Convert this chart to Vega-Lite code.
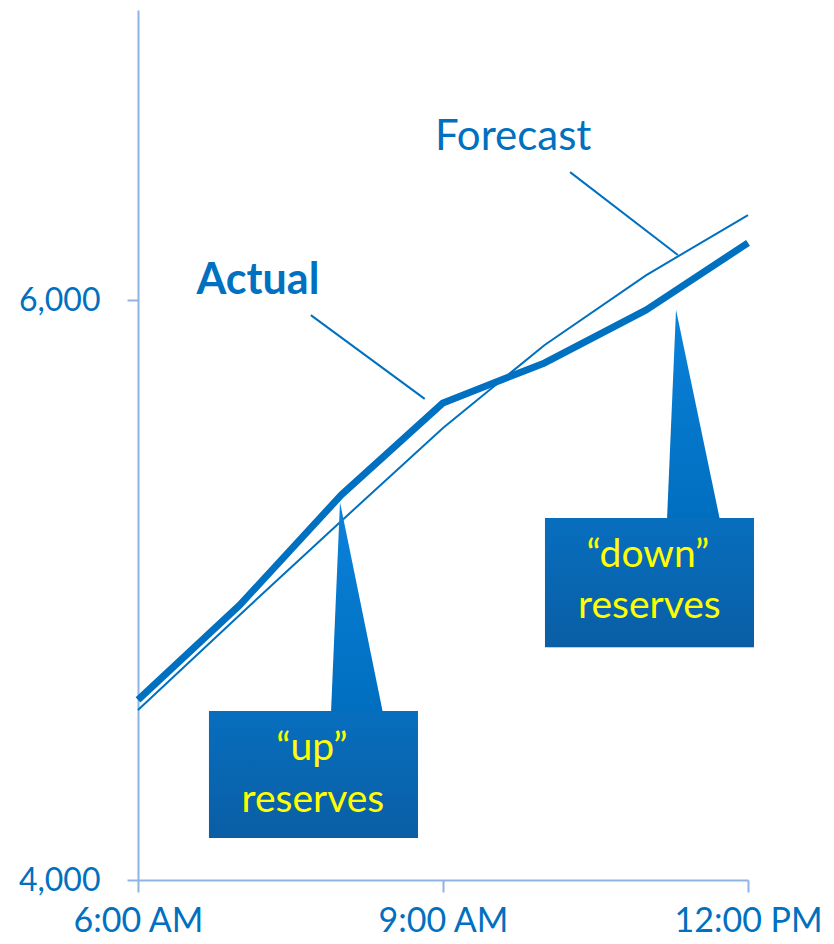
{
  "$schema": "https://vega.github.io/schema/vega-lite/v6.json",
  "width": 610,
  "height": 870,
  "autosize": {"type": "none"},
  "padding": {"left": 138, "top": 10, "right": 86, "bottom": 64},
  "background": "white",
  "config": {
    "view": {"stroke": null},
    "font": "Lato"
  },
  "datasets": {
    "series": [
      {"hour": 6, "value": 4621, "series": "Actual"},
      {"hour": 7, "value": 4948, "series": "Actual"},
      {"hour": 8, "value": 5328, "series": "Actual"},
      {"hour": 9, "value": 5645, "series": "Actual"},
      {"hour": 10, "value": 5783, "series": "Actual"},
      {"hour": 11, "value": 5966, "series": "Actual"},
      {"hour": 12, "value": 6197, "series": "Actual"},
      {"hour": 6, "value": 4586, "series": "Forecast"},
      {"hour": 7, "value": 4914, "series": "Forecast"},
      {"hour": 8, "value": 5238, "series": "Forecast"},
      {"hour": 9, "value": 5559, "series": "Forecast"},
      {"hour": 10, "value": 5845, "series": "Forecast"},
      {"hour": 11, "value": 6086, "series": "Forecast"},
      {"hour": 12, "value": 6293, "series": "Forecast"}
    ],
    "leaders": [
      {"label": "Forecast", "x1": 10.25, "y1": 6441, "x2": 11.31, "y2": 6155},
      {"label": "Actual", "x1": 7.70, "y1": 5948, "x2": 8.82, "y2": 5659}
    ],
    "labels": [
      {"label": "Forecast", "x": 9.69, "y": 6562},
      {"label": "Actual", "x": 7.18, "y": 6066}
    ],
    "boxes": [
      {"box": "up", "x1": 6.698, "x2": 8.754, "y1": 4583, "y2": 4145},
      {"box": "down", "x1": 10.003, "x2": 12.059, "y1": 5248, "y2": 4803}
    ],
    "pointers": [
      {"box": "up", "y": 5303, "xl": 7.987, "xr": 7.987},
      {"box": "up", "y": 4575, "xl": 7.898, "xr": 8.410},
      {"box": "down", "y": 5966, "xl": 11.292, "xr": 11.292},
      {"box": "down", "y": 5240, "xl": 11.203, "xr": 11.725}
    ],
    "boxtext": [
      {"text": "“up”", "x": 7.711, "y": 4455},
      {"text": "reserves", "x": 7.72, "y": 4276},
      {"text": "“down”", "x": 11.016, "y": 5121},
      {"text": "reserves", "x": 11.03, "y": 4945}
    ]
  },
  "layer": [
    {
      "data": {"name": "series"},
      "transform": [{"filter": "datum.series == 'Forecast'"}],
      "mark": {"type": "line", "color": "#0070c0", "strokeWidth": 2},
      "encoding": {
        "x": {
          "field": "hour", "type": "quantitative",
          "scale": {"domain": [6, 12], "nice": false, "zero": false},
          "axis": {
            "values": [6, 9, 12],
            "title": null,
            "grid": false,
            "labelExpr": "datum.value == 12 ? '12:00 PM' : datum.value + ':00 AM'",
            "labelFlush": false,
            "labelOverlap": false,
            "labelBound": false,
            "labelFont": "Lato",
            "labelFontSize": 34,
            "labelColor": "#0070c0",
            "labelPadding": 12,
            "domainColor": "#8eb4e3",
            "domainWidth": 2,
            "tickColor": "#8eb4e3",
            "tickWidth": 2,
            "tickSize": 12
          }
        },
        "y": {
          "field": "value", "type": "quantitative",
          "scale": {"domain": [4000, 7000], "nice": false, "zero": false},
          "axis": {
            "values": [4000, 6000],
            "labelExpr": "format(datum.value, ',.0f')",
            "title": null,
            "grid": false,
            "labelFont": "Lato",
            "labelFontSize": 32,
            "labelColor": "#0070c0",
            "labelPadding": 27,
            "labelOverlap": false,
            "domainColor": "#8eb4e3",
            "domainWidth": 2,
            "tickColor": "#8eb4e3",
            "tickWidth": 2,
            "tickSize": 11
          }
        }
      }
    },
    {
      "data": {"name": "series"},
      "transform": [{"filter": "datum.series == 'Actual'"}],
      "mark": {"type": "line", "color": "#0070c0", "strokeWidth": 7, "strokeJoin": "round"},
      "encoding": {
        "x": {"field": "hour", "type": "quantitative"},
        "y": {"field": "value", "type": "quantitative"}
      }
    },
    {
      "data": {"name": "leaders"},
      "mark": {"type": "rule", "color": "#0070c0", "strokeWidth": 2},
      "encoding": {
        "x": {"field": "x1", "type": "quantitative"},
        "x2": {"field": "x2"},
        "y": {"field": "y1", "type": "quantitative"},
        "y2": {"field": "y2"}
      }
    },
    {
      "data": {"name": "labels"},
      "transform": [{"filter": "datum.label == 'Forecast'"}],
      "mark": {"type": "text", "color": "#0070c0", "fontSize": 42, "font": "Lato", "align": "center", "baseline": "middle"},
      "encoding": {
        "x": {"field": "x", "type": "quantitative"},
        "y": {"field": "y", "type": "quantitative"},
        "text": {"field": "label"}
      }
    },
    {
      "data": {"name": "labels"},
      "transform": [{"filter": "datum.label == 'Actual'"}],
      "mark": {"type": "text", "color": "#0070c0", "fontSize": 43, "fontWeight": "bold", "font": "Lato", "align": "center", "baseline": "middle"},
      "encoding": {
        "x": {"field": "x", "type": "quantitative"},
        "y": {"field": "y", "type": "quantitative"},
        "text": {"field": "label"}
      }
    },
    {
      "data": {"name": "boxes"},
      "mark": {"type": "rect", "color": "#7f7f7f", "opacity": 0.35, "xOffset": 3, "yOffset": 5},
      "encoding": {
        "x": {"field": "x1", "type": "quantitative"},
        "x2": {"field": "x2"},
        "y": {"field": "y1", "type": "quantitative"},
        "y2": {"field": "y2"}
      }
    },
    {
      "data": {"name": "pointers"},
      "mark": {
        "type": "area",
        "orient": "horizontal",
        "color": {
          "gradient": "linear", "x1": 0, "y1": 0, "x2": 0, "y2": 1,
          "stops": [{"offset": 0, "color": "#0a82da"}, {"offset": 1, "color": "#006ebf"}]
        }
      },
      "encoding": {
        "y": {"field": "y", "type": "quantitative"},
        "x": {"field": "xl", "type": "quantitative"},
        "x2": {"field": "xr"},
        "detail": {"field": "box"}
      }
    },
    {
      "data": {"name": "boxes"},
      "mark": {
        "type": "rect",
        "color": {
          "gradient": "linear", "x1": 0, "y1": 0, "x2": 0, "y2": 1,
          "stops": [{"offset": 0, "color": "#076ebe"}, {"offset": 1, "color": "#0a5ea4"}]
        }
      },
      "encoding": {
        "x": {"field": "x1", "type": "quantitative"},
        "x2": {"field": "x2"},
        "y": {"field": "y1", "type": "quantitative"},
        "y2": {"field": "y2"}
      }
    },
    {
      "data": {"name": "boxtext"},
      "mark": {"type": "text", "color": "#ffff00", "fontSize": 39, "font": "Lato", "align": "center", "baseline": "middle"},
      "encoding": {
        "x": {"field": "x", "type": "quantitative"},
        "y": {"field": "y", "type": "quantitative"},
        "text": {"field": "text"}
      }
    }
  ]
}
